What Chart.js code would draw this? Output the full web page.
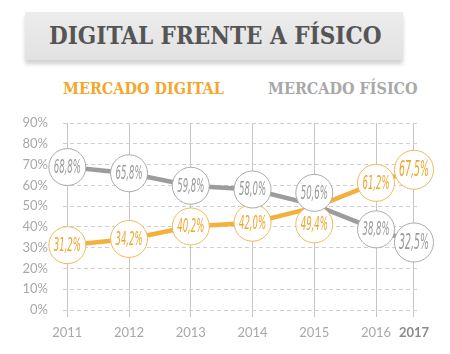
<!DOCTYPE html>
<html>
<head>
<meta charset="utf-8">
<script src="https://cdn.jsdelivr.net/npm/chart.js@4"></script>
<style>
  body { margin: 0; width: 450px; height: 354px; background: #fff; position: relative; overflow: hidden; }
  #banner {
    position: absolute; left: 25px; top: 12px; width: 378px; height: 48px;
    background: linear-gradient(#ececec, #e2e2e2);
    box-shadow: 0 4px 4px rgba(0,0,0,0.18);
  }
  #banner span {
    position: absolute; left: 24px; top: 9px;
    font-family: "DejaVu Serif Condensed", "DejaVu Serif", serif; font-weight: bold;
    font-size: 24px; color: #555; letter-spacing: 0px; white-space: nowrap;
  }
  .leg {
    position: absolute; top: 79px;
    font-family: "DejaVu Serif Condensed", "DejaVu Serif", serif; font-weight: bold;
    font-size: 16px; white-space: nowrap;
  }
  #c { position: absolute; left: 0; top: 0; }
</style>
</head>
<body>
<div id="banner"><span>DIGITAL FRENTE A FÍSICO</span></div>
<div class="leg" style="left:63px;color:#f2a72e">MERCADO DIGITAL</div>
<div class="leg" style="left:268px;color:#a8a8a8">MERCADO FÍSICO</div>
<canvas id="c" width="450" height="354"></canvas>
<script>
// data
var years = ['2011', '2012', '2013', '2014', '2015', '2016', '2017'];
var xPos = [0, 1, 2, 3, 4, 5, 5.615]; // 2017 sits closer to 2016 in the original
var digital = [31.2, 34.2, 40.2, 42.0, 49.4, 61.2, 67.5];
var fisico = [68.8, 65.8, 59.8, 58.0, 50.6, 38.8, 32.5];

var orange = '#f4b03c';
var grey = '#9c9c9c';

function pts(vals) {
  return vals.map(function (v, i) { return {x: xPos[i], y: v}; });
}

// circles with the value inside; 2015 is pushed apart so they don't overlap
var nudge = [{4: 17}, {4: -12}];

var bubbles = {
  id: 'bubbles',
  afterDatasetsDraw: function (chart) {
    var ctx = chart.ctx;
    chart.data.datasets.forEach(function (ds, di) {
      var meta = chart.getDatasetMeta(di);
      meta.data.forEach(function (p, i) {
        var y = p.y + (nudge[di][i] || 0);
        var big = i === meta.data.length - 1;
        ctx.save();
        ctx.beginPath();
        ctx.arc(p.x, y, big ? 19.5 : 18.5, 0, Math.PI * 2);
        ctx.fillStyle = '#fff';
        ctx.fill();
        ctx.lineWidth = 1;
        ctx.strokeStyle = ds.ringColor;
        ctx.stroke();
        ctx.translate(p.x, y);
        ctx.scale(0.5, 1);
        ctx.font = 'italic ' + (big ? 21 : 19) + 'px "DejaVu Sans Condensed", sans-serif';
        ctx.fillStyle = ds.textColor;
        ctx.textAlign = 'center';
        ctx.textBaseline = 'middle';
        ctx.fillText(ds.data[i].y.toFixed(1).replace('.', ',') + '%', 0, 1);
        ctx.restore();
      });
    });
  }
};

var chart = new Chart(document.getElementById('c').getContext('2d'), {
  type: 'line',
  data: {
    datasets: [
      { label: 'MERCADO DIGITAL', data: pts(digital), borderColor: orange, borderWidth: 4.5,
        pointRadius: 0, ringColor: '#f2b95a', textColor: '#efa52c' },
      { label: 'MERCADO FÍSICO', data: pts(fisico), borderColor: grey, borderWidth: 4.5,
        pointRadius: 0, ringColor: '#ababab', textColor: '#9a9a9a' }
    ]
  },
  options: {
    responsive: false,
    animation: false,
    layout: { padding: { top: 123, right: 32, left: 0, bottom: 0 } },
    plugins: { legend: { display: false }, tooltip: { enabled: false } },
    scales: {
      x: {
        type: 'linear',
        min: -0.07,
        max: 5.68,
        afterBuildTicks: function (scale) {
          scale.ticks = xPos.map(function (v) { return {value: v}; });
        },
        afterFit: function (scale) { scale.height = 44; },
        border: { display: false },
        grid: { color: '#c6c6c6', lineWidth: 1, tickLength: 7, drawTicks: true },
        ticks: {
          autoSkip: false,
          maxRotation: 0,
          padding: 8,
          callback: function (v, i) { return years[i]; },
          color: function (c) { return c.index === 6 ? '#8a8a8a' : '#a8a8a8'; },
          font: function (c) {
            return { family: 'Lato', size: 13, weight: c.index === 6 ? 'bold' : '400' };
          }
        }
      },
      y: {
        min: 0,
        max: 90,
        afterFit: function (scale) { scale.width = 63; },
        border: { display: false, dash: [4, 3] },
        grid: { color: '#cfcfcf', drawTicks: false },
        ticks: {
          stepSize: 10,
          padding: 15,
          color: '#a8a8a8',
          font: { family: 'Lato', size: 13, weight: '400' },
          callback: function (v) { return v + '%'; }
        }
      }
    }
  },
  plugins: [bubbles]
});
</script>
</body>
</html>
